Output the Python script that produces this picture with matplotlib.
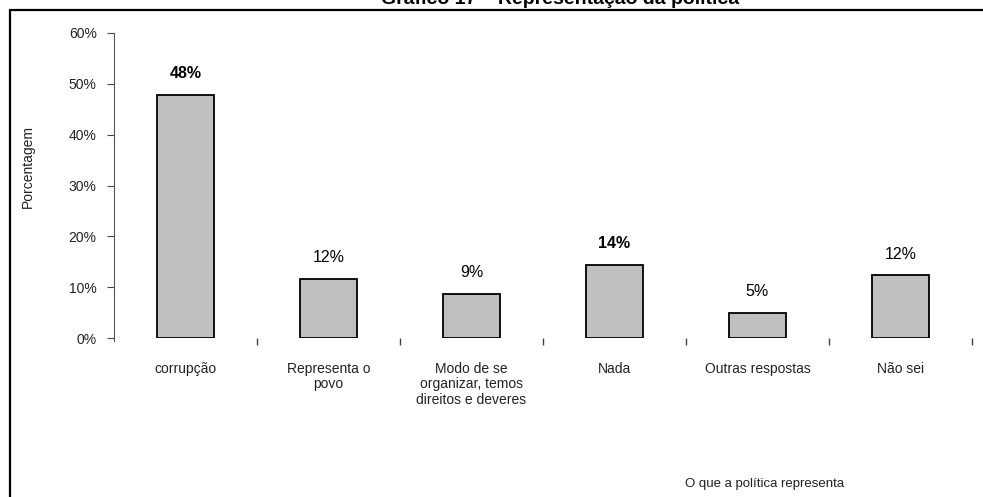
import matplotlib
matplotlib.use("Agg")
import matplotlib.pyplot as plt
from matplotlib.patches import Rectangle
from matplotlib.ticker import FixedLocator, FuncFormatter

plt.rcParams['font.family'] = ['Liberation Sans', 'DejaVu Sans']

categories = ["corrupção", "Representa o\npovo", "Modo de se\norganizar, temos\ndireitos e deveres",
              "Nada", "Outras respostas", "Não sei"]
values = [47.8, 11.7, 8.6, 14.4, 4.9, 12.3]
label_bold = [True, False, False, True, False, False]
yticks = [0, 10, 20, 30, 40, 50, 60]
title = "Gráfico 17 – Representação da política"
ylabel = "Porcentagem"
xlabel = "O que a política representa"

W, H = 983, 497
fig = plt.figure(figsize=(W / 100, H / 100), dpi=100)
ax = fig.add_axes([114 / W, 1 - 338 / H, (972 - 114) / W, (338 - 33) / H])

x = list(range(len(categories)))
bars = ax.bar(x, values, width=0.4, color="#C0C0C0", edgecolor="black", linewidth=1.3, zorder=3)
for xi, v, b in zip(x, values, label_bold):
    ax.annotate(f"{v:.0f}%", (xi, v), xytext=(0, 10), textcoords="offset points",
                ha="center", va="bottom", fontsize=11.5,
                fontweight="bold" if b else "normal", color="black")

ax.set_xlim(-0.5, len(categories) - 0.5)
ax.set_ylim(0, 60)
ax.set_yticks(yticks)
ax.yaxis.set_major_formatter(FuncFormatter(lambda v, p: f"{v:.0f}%"))
ax.tick_params(axis="y", direction="out", length=5, width=0.8, color="#444444",
               labelsize=10, labelcolor="#222222", pad=7.5)

ax.set_xticks(x)
ax.set_xticklabels(categories, fontsize=10, color="#222222", linespacing=1.15, va="top")
ax.tick_params(axis="x", which="major", length=0, pad=17)
ax.xaxis.set_minor_locator(FixedLocator([i + 0.5 for i in range(len(categories))]))
ax.tick_params(axis="x", which="minor", direction="out", length=5, width=1.0, color="#444444")

for s in ["top", "right", "bottom"]:
    ax.spines[s].set_visible(False)
ax.spines["left"].set_color("#555555")
ax.spines["left"].set_linewidth(0.8)
ax.spines["left"].set_bounds(-0.5, 60)

fig.text(28 / W, 1 - 166 / H, ylabel, rotation=90, ha="center", va="center",
         fontsize=10, color="#222222")
fig.text(765 / W, 1 - 484 / H, xlabel, ha="center", va="center", fontsize=9.5, color="#222222")

fig.text(560 / W, 1 - 4 / H, title, ha="center", va="baseline", fontsize=14,
         fontweight="bold", color="black")

fig.patches.append(Rectangle((9.5 / W, -0.1), 1.2, 1.1 - 9.5 / H, transform=fig.transFigure,
                             fill=False, edgecolor="black", linewidth=1.6, figure=fig))

fig.savefig("out.png", dpi=100)
